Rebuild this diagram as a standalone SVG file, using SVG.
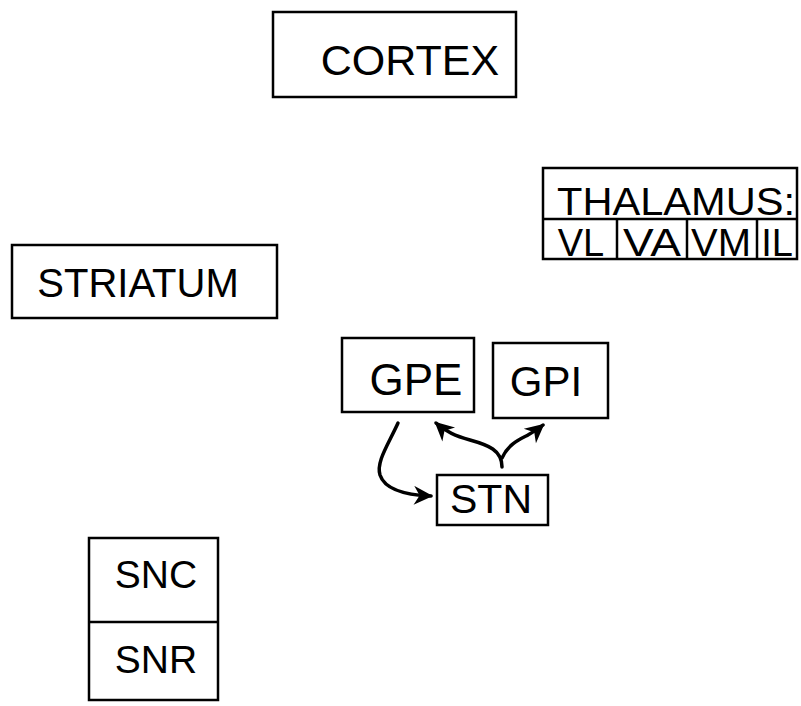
<svg xmlns="http://www.w3.org/2000/svg" width="801" height="706" viewBox="0 0 801 706">
<style>
.box{fill:#fff;stroke:#000;stroke-width:2.5}
.ln{stroke:#000;stroke-width:2.5}
.t{font-family:"Liberation Sans",Arial,sans-serif;fill:#000;text-anchor:middle}
.c{fill:none;stroke:#000;stroke-width:3.5;stroke-linecap:round}
</style>
<defs>
<marker id="ah" viewBox="0 0 10 10" refX="9" refY="5" markerWidth="22" markerHeight="19" orient="auto" markerUnits="userSpaceOnUse">
<path d="M0,0 L10,5 L0,10 L3,5 z" fill="#000"/>
</marker>
</defs>
<rect width="801" height="706" fill="#fff"/>
<g id="cortex">
<rect class="box" x="273" y="12" width="243" height="85"/>
<text class="t" x="410" y="75" font-size="43">CORTEX</text>
</g>
<g id="thalamus">
<rect class="box" x="543" y="168" width="254" height="91"/>
<line class="ln" x1="543" y1="219" x2="797" y2="219"/>
<line class="ln" x1="617" y1="219" x2="617" y2="259"/>
<line class="ln" x1="687" y1="219" x2="687" y2="259"/>
<line class="ln" x1="757" y1="219" x2="757" y2="259"/>
<text class="t" x="676" y="215" font-size="39" textLength="238" lengthAdjust="spacingAndGlyphs">THALAMUS:</text>
<text class="t" x="581" y="256" font-size="38">VL</text>
<text class="t" x="652" y="256" font-size="38" textLength="58" lengthAdjust="spacingAndGlyphs">VA</text>
<text class="t" x="721" y="256" font-size="38" textLength="60" lengthAdjust="spacingAndGlyphs">VM</text>
<text class="t" x="777" y="256" font-size="38">IL</text>
</g>
<g id="striatum">
<rect class="box" x="12" y="245" width="265" height="73"/>
<text class="t" x="138" y="297" font-size="40">STRIATUM</text>
</g>
<g id="gpe">
<rect class="box" x="342" y="338" width="132" height="74"/>
<text class="t" x="416" y="395" font-size="44">GPE</text>
</g>
<g id="gpi">
<rect class="box" x="493" y="343" width="115" height="75"/>
<text class="t" x="546" y="396" font-size="42">GPI</text>
</g>
<g id="stn">
<rect class="box" x="437" y="475" width="111" height="50"/>
<text class="t" x="491" y="513" font-size="41">STN</text>
</g>
<g id="snc-snr">
<rect class="box" x="89" y="538" width="129" height="162"/>
<line class="ln" x1="89" y1="622" x2="218" y2="622"/>
<text class="t" x="156" y="588" font-size="39">SNC</text>
<text class="t" x="156" y="673" font-size="39">SNR</text>
</g>
<g id="connectors">
<path class="c" d="M398,423 C388,445 376,462 380,475 C385,490 405,495 431,496" marker-end="url(#ah)"/>
<path class="c" d="M502,467 C502,450 488,445 470,440 C456,436 446,432 436,423" marker-end="url(#ah)"/>
<path class="c" d="M502,458 C508,445 518,440 526,436 C533,432 537,430 543,425" marker-end="url(#ah)"/>
</g>
</svg>
